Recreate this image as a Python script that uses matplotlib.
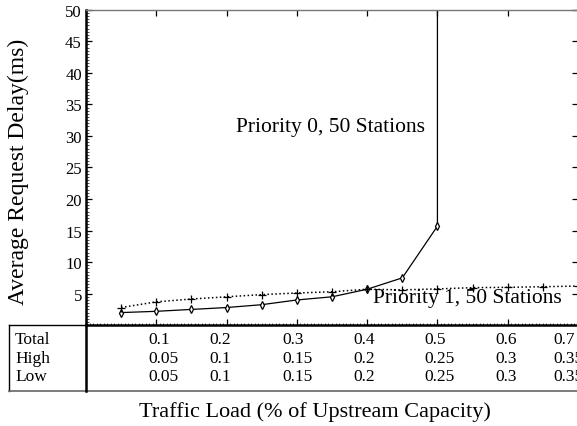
import numpy as np
import matplotlib
matplotlib.use("Agg")
import matplotlib.pyplot as plt
from matplotlib.ticker import MultipleLocator
from matplotlib.lines import Line2D

plt.rcParams['font.family'] = ['Liberation Serif', 'DejaVu Serif']

# priority 0 (diamonds, solid) -- saturates at load 0.5
load_p0 = [0.05, 0.10, 0.15, 0.20, 0.25, 0.30, 0.35, 0.40, 0.45, 0.50, 0.50]
delay_p0 = [2.0, 2.2, 2.5, 2.8, 3.25, 4.0, 4.5, 5.7, 7.5, 15.7, 60.0]

# priority 1 (plus, dotted)
load_p1 = [0.05, 0.10, 0.15, 0.20, 0.25, 0.30, 0.35, 0.40, 0.45, 0.50, 0.55, 0.60, 0.65, 0.70]
delay_p1 = [2.8, 3.7, 4.15, 4.5, 4.85, 5.1, 5.3, 5.7, 5.6, 5.75, 5.95, 6.0, 6.1, 6.2]

# load breakdown printed under the axis
table_x = [0.1, 0.2, 0.3, 0.4, 0.5, 0.6, 0.7]
row_names = ["Total", "High", "Low"]
total_load = ["0.1", "0.2", "0.3", "0.4", "0.5", "0.6", "0.7"]
high_load = ["0.05", "0.1", "0.15", "0.2", "0.25", "0.3", "0.35"]
low_load = ["0.05", "0.1", "0.15", "0.2", "0.25", "0.3", "0.35"]

W, H = 577, 427
fig = plt.figure(figsize=(W / 100, H / 100), dpi=100)

x0, x1 = 86, 578
y_top, y_bot = 10.7, 326.2
ax = fig.add_axes([x0 / W, 1 - y_bot / H, (x1 - x0) / W, (y_bot - y_top) / H])

ax.plot(load_p0, delay_p0, color='black', lw=0.9, marker='d', ms=4,
        mfc='white', mec='black', mew=0.9, markevery=list(range(10)))
ax.plot(load_p1, delay_p1, color='black', lw=1.1, ls=(0, (1, 1.6)), marker='+',
        ms=6, mew=0.9)

ax.set_xlim(0, 0.7)
ax.set_ylim(0, 50)

ax.yaxis.set_major_locator(MultipleLocator(5))
ax.yaxis.set_minor_locator(MultipleLocator(0.5))
ax.xaxis.set_major_locator(MultipleLocator(0.1))
ax.xaxis.set_minor_locator(MultipleLocator(0.005))
ax.set_yticks(np.arange(5, 51, 5))
ax.set_yticklabels([str(v) for v in range(5, 51, 5)])
ax.tick_params(axis='both', which='major', direction='in', length=4, width=0.9,
               top=True, right=True, labelsize=12, pad=3)
ax.tick_params(axis='both', which='minor', direction='in', length=1.8,
               width=0.5, top=False, right=False)
ax.tick_params(axis='x', labelbottom=False)

ax.spines['left'].set_linewidth(1.8)
ax.spines['bottom'].set_linewidth(1.8)
ax.spines['top'].set_linewidth(1.0)
ax.spines['top'].set_color('#777777')
ax.spines['right'].set_linewidth(1.0)

ax.text(0.2134, 30.8, "Priority 0, 50 Stations", fontsize=15.5, ha='left', va='baseline')
ax.text(0.408, 3.7, "Priority 1, 50 Stations", fontsize=15.5, ha='left', va='baseline')

ax.set_ylabel("Average Request Delay(ms)", fontsize=17)
ax.yaxis.set_label_coords(-(x0 - 29) / (x1 - x0), 0.49)

# table rows below the axis, placed in pixel rows
def ax_y(py):
    return (y_bot - py) / (y_bot - y_top)

row_y = [340, 359, 377]
# left edge of each column relative to its tick, in pixels
col_shift = [-8, -17, -14, -14, -13, -12, -25]
px_per_unit = (x1 - x0) / 0.7
trans = ax.get_xaxis_transform()
for name, py in zip(row_names, row_y):
    fig.text(15 / W, 1 - py / H, name, fontsize=12.5, ha='left', va='center')
for vals, py in zip([total_load, high_load, low_load], row_y):
    for xv, dx, s in zip(table_x, col_shift, vals):
        ax.text(xv + dx / px_per_unit, ax_y(py), s, transform=trans, fontsize=12.5,
                ha='left', va='center', clip_on=False)

# table frame
fig.add_artist(Line2D([9 / W, x0 / W], [1 - y_bot / H] * 2, color='black', lw=1.0))
fig.add_artist(Line2D([9 / W] * 2, [1 - y_bot / H, 1 - 392 / H], color='black', lw=1.0))
fig.add_artist(Line2D([9 / W, 1], [1 - 392 / H] * 2, color='#666666', lw=1.2))
fig.add_artist(Line2D([x0 / W] * 2, [1 - y_bot / H, 1 - 392 / H], color='black', lw=1.8))

fig.text(315 / W, 1 - 412 / H, "Traffic Load (% of Upstream Capacity)", fontsize=16,
         ha='center', va='center')

fig.savefig("out.png", dpi=100)
